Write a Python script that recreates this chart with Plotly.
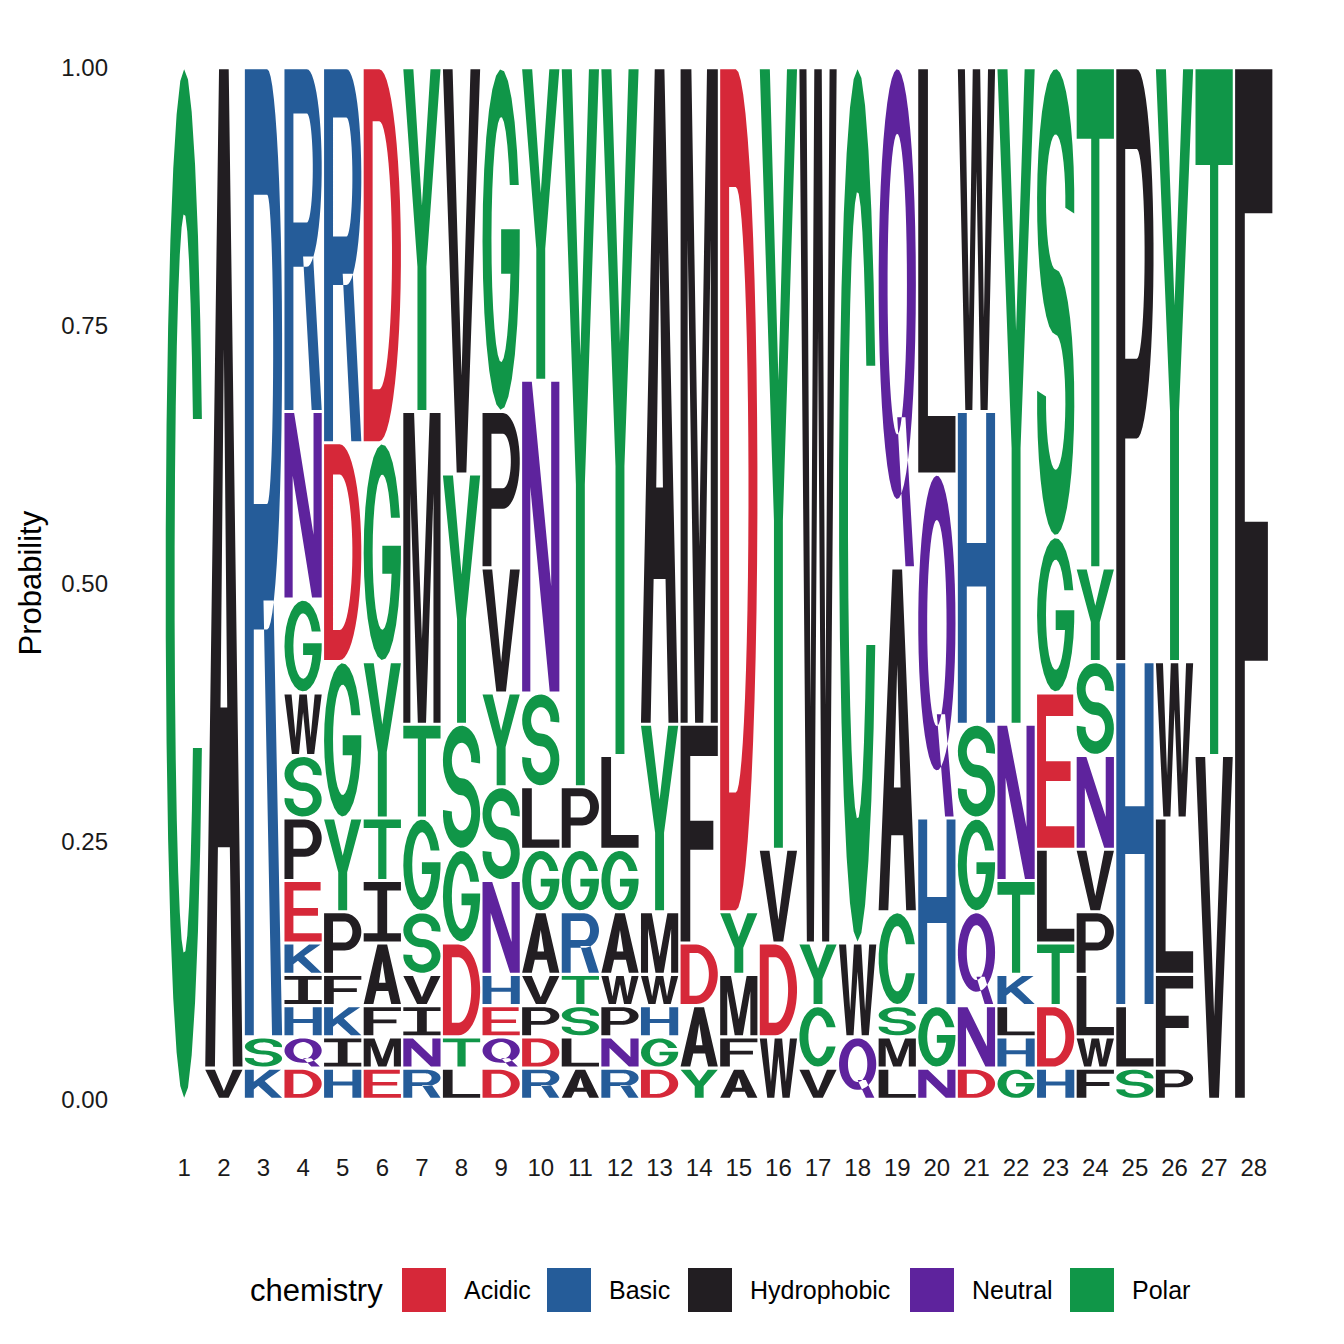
import numpy as np
import plotly.graph_objects as go

# ------------------------------------------------------------------
# Data: residues per position (bottom -> top) and counts out of 33
# ------------------------------------------------------------------

POSITIONS = list(range(1, 29))

RESIDUES = [
    "C", "VA", "KSR", "DQHIKEPSWGNR", "HIKFPYGDR", "EMFAITYGD", "RNIVSGTMY",
    "LTDGSYV", "DQEHNSYVPG", "RDPVAGLSNY", "ALSTRGPY", "RNPWAGLY", "DGHWMYA",
    "YADFM", "AFMYD", "WDVY", "VCYW", "QWC", "LMSCAQ", "NGHQL", "DNQGSHW",
    "GHLKTNY", "HDTLEGS", "FWLPVNSYT", "SLHP", "PFLWY", "VT", "F",
]

COUNTS = [
    [33],
    [1, 32],
    [1, 1, 31],
    [1, 1, 1, 1, 1, 2, 2, 2, 2, 3, 6, 11],
    [1, 1, 1, 1, 2, 3, 5, 7, 12],
    [1, 1, 1, 2, 2, 2, 5, 7, 12],
    [1, 1, 1, 1, 2, 3, 3, 10, 11],
    [1, 1, 3, 3, 4, 8, 13],
    [1, 1, 1, 1, 3, 3, 3, 4, 5, 11],
    [1, 1, 1, 1, 2, 2, 2, 3, 10, 10],
    [1, 1, 1, 1, 2, 2, 2, 23],
    [1, 1, 1, 1, 2, 2, 3, 22],
    [1, 1, 1, 1, 2, 6, 21],
    [1, 2, 2, 7, 21],
    [1, 1, 2, 2, 27],
    [2, 3, 3, 25],
    [1, 2, 2, 28],
    [2, 3, 28],
    [1, 1, 1, 3, 11, 16],
    [1, 2, 6, 11, 13],
    [1, 2, 3, 3, 3, 10, 11],
    [1, 1, 1, 1, 3, 5, 21],
    [1, 2, 2, 3, 5, 5, 15],
    [1, 1, 2, 2, 2, 3, 3, 3, 16],
    [1, 2, 11, 19],
    [1, 3, 5, 5, 19],
    [11, 22],
    [33],
]

Y_TICKS = [0, 0.25, 0.5, 0.75, 1.0]
Y_TICK_LABELS = ['0.00', '0.25', '0.50', '0.75', '1.00']

GROUPS = ['Acidic', 'Basic', 'Hydrophobic', 'Neutral', 'Polar']
GROUP_COLORS = {
    'Acidic': '#D62839',
    'Basic': '#255C99',
    'Hydrophobic': '#221E22',
    'Neutral': '#5E239D',
    'Polar': '#109648',
}
GROUP_LETTERS = {
    'Acidic': 'DE',
    'Basic': 'KRH',
    'Hydrophobic': 'PAWFLIMV',
    'Neutral': 'QN',
    'Polar': 'GSTYC',
}
LETTER_GROUP = {aa: g for g, aas in GROUP_LETTERS.items() for aa in aas}

FONT = 'Liberation Sans, Arial, sans-serif'

# ------------------------------------------------------------------
# Letter outlines in a unit box (x, y in 0..1)
# ------------------------------------------------------------------

SW = 0.24   # stem width
BT = 0.14   # bar thickness


def arc(cx, cy, rx, ry, a0, a1, n=28):
    t = np.radians(np.linspace(a0, a1, n))
    return list(zip(cx + rx * np.cos(t), cy + ry * np.sin(t)))


def deg_asin(v):
    return float(np.degrees(np.arcsin(np.clip(v, -1, 1))))


def make_glyphs():
    """Each glyph: list of components; a component is [outer, hole, hole...]."""
    g = {}
    rxi, ryi = 0.5 - SW, 0.5 - BT

    g['A'] = [[[(0, 0), (0.26, 0), (0.34, 0.22), (0.66, 0.22), (0.74, 0), (1, 0),
                (0.63, 1), (0.37, 1)],
               [(0.41, 0.36), (0.59, 0.36), (0.5, 0.72)]]]

    to = deg_asin(0.16 / 0.5)
    ti = deg_asin(0.16 / ryi)
    g['C'] = [[arc(0.5, 0.5, 0.5, 0.5, to, 360 - to)
               + arc(0.5, 0.5, rxi, ryi, 360 - ti, ti)]]

    tb = deg_asin(-0.10 / ryi)
    g['G'] = [[arc(0.5, 0.5, 0.5, 0.5, to, 355)
               + [(1.0, 0.53), (0.5, 0.53), (0.5, 0.40)]
               + arc(0.5, 0.5, rxi, ryi, tb, -(360 - ti))]]

    g['D'] = [[[(0, 0), (0.42, 0)] + arc(0.42, 0.5, 0.58, 0.5, -90, 90) + [(0, 1)],
               [(SW, BT), (0.42, BT)] + arc(0.42, 0.5, 0.34, 0.5 - BT, -90, 90)
               + [(SW, 1 - BT)]]]

    g['E'] = [[[(0, 0), (1, 0), (1, BT), (SW, BT), (SW, 0.435), (0.9, 0.435),
                (0.9, 0.565), (SW, 0.565), (SW, 1 - BT), (0.97, 1 - BT),
                (0.97, 1), (0, 1)]]]

    g['F'] = [[[(0, 0), (SW + 0.02, 0), (SW + 0.02, 0.425), (0.88, 0.425),
                (0.88, 0.56), (SW + 0.02, 0.56), (SW + 0.02, 1 - BT), (1, 1 - BT),
                (1, 1), (0, 1)]]]

    g['H'] = [[[(0, 0), (SW, 0), (SW, 0.44), (1 - SW, 0.44), (1 - SW, 0), (1, 0),
                (1, 1), (1 - SW, 1), (1 - SW, 0.58), (SW, 0.58), (SW, 1), (0, 1)]]]

    s = 0.13
    g['I'] = [[[(0, 0), (1, 0), (1, BT), (0.5 + s, BT), (0.5 + s, 1 - BT),
                (1, 1 - BT), (1, 1), (0, 1), (0, 1 - BT), (0.5 - s, 1 - BT),
                (0.5 - s, BT), (0, BT)]]]

    g['K'] = [[[(0, 0), (SW, 0), (SW, 0.3), (0.36, 0.43), (0.72, 0), (1, 0),
                (0.53, 0.6), (0.97, 1), (0.66, 1), (SW, 0.57), (SW, 1), (0, 1)]]]

    g['L'] = [[[(0, 0), (1, 0), (1, BT), (SW + 0.02, BT), (SW + 0.02, 1), (0, 1)]]]

    g['M'] = [[[(0, 0), (0.19, 0), (0.19, 0.74), (0.39, 0), (0.61, 0), (0.81, 0.74),
                (0.81, 0), (1, 0), (1, 1), (0.71, 1), (0.5, 0.27), (0.29, 1),
                (0, 1)]]]

    g['N'] = [[[(0, 0), (0.22, 0), (0.22, 0.66), (0.74, 0), (1, 0), (1, 1),
                (0.78, 1), (0.78, 0.34), (0.26, 1), (0, 1)]]]

    cy, ry = (0.375 + 1) / 2, (1 - 0.375) / 2
    cyi, ryh = (0.51 + 0.865) / 2, (0.865 - 0.51) / 2
    g['P'] = [[[(0, 0), (SW, 0), (SW, 0.375), (0.55, 0.375)]
               + arc(0.55, cy, 0.45, ry, -90, 90) + [(0, 1)],
               [(SW, 0.51), (0.55, 0.51)] + arc(0.55, cyi, 0.21, ryh, -90, 90)
               + [(SW, 0.865)]]]

    qc, qr = 0.5675, 0.4325
    g['Q'] = [[arc(0.5, qc, 0.5, qr, 0, 360, 48),
               arc(0.5, qc, rxi, qr - 0.13, 0, 360, 48)],
              [[(0.5, 0.3), (0.72, 0.3), (0.95, 0.0), (0.72, 0.0)]]]

    cy, ry = (0.42 + 1) / 2, (1 - 0.42) / 2
    cyi, ryh = (0.55 + 0.87) / 2, (0.87 - 0.55) / 2
    g['R'] = [[[(0, 0), (SW, 0), (SW, 0.42), (0.6, 0.42)]
               + arc(0.6, cy, 0.4, ry, -90, 90) + [(0, 1)],
               [(SW, 0.55), (0.6, 0.55)] + arc(0.6, cyi, 0.16, ryh, -90, 90)
               + [(SW, 0.87)]],
              [[(0.5, 0.45), (0.77, 0.45), (1.0, 0), (0.73, 0)]]]

    cu, cl = 0.715, 0.285
    ro, ri = 0.285, 0.145
    g['S'] = [[arc(0.5, cu, 0.5, ro, -5, 270)
               + arc(0.5, cl, rxi, ri, 90, -185)
               + arc(0.5, cl, 0.5, ro, -185, 90)
               + arc(0.5, cu, rxi, ri, 270, -5)]]

    g['T'] = [[[(0, 1 - BT), (0.39, 1 - BT), (0.39, 0), (0.61, 0), (0.61, 1 - BT),
                (1, 1 - BT), (1, 1), (0, 1)]]]

    g['V'] = [[[(0, 1), (0.26, 1), (0.5, 0.24), (0.74, 1), (1, 1), (0.63, 0),
                (0.37, 0)]]]

    g['W'] = [[[(0, 1), (0.19, 1), (0.3, 0.27), (0.4, 1), (0.6, 1), (0.7, 0.27),
                (0.81, 1), (1, 1), (0.8, 0), (0.61, 0), (0.5, 0.7), (0.39, 0),
                (0.2, 0)]]]

    g['Y'] = [[[(0, 1), (0.27, 1), (0.5, 0.6), (0.73, 1), (1, 1), (0.62, 0.42),
                (0.62, 0), (0.38, 0), (0.38, 0.42)]]]
    return g


GLYPHS = make_glyphs()


def signed_area(pts):
    a = 0.0
    for (x0, y0), (x1, y1) in zip(pts, pts[1:] + pts[:1]):
        a += x0 * y1 - x1 * y0
    return a / 2


def glyph_path(letter, x0, x1, y0, y1):
    """SVG path of a glyph stretched into the box [x0, x1] x [y0, y1]."""
    parts = []
    for comp in GLYPHS[letter]:
        for i, contour in enumerate(comp):
            pts = list(contour)
            is_hole = i > 0
            # outer contours counter-clockwise, holes clockwise (nonzero rule)
            if (signed_area(pts) > 0) == is_hole:
                pts = pts[::-1]
            coords = ['%.4f,%.5f' % (x0 + u * (x1 - x0), y0 + v * (y1 - y0)) for u, v in pts]
            parts.append('M' + ' L'.join(coords) + ' Z')
    return ' '.join(parts)


# ------------------------------------------------------------------
# Figure
# ------------------------------------------------------------------

HALF_W = 0.47
PAD = 0.0015

shapes = []
for pos, letters, counts in zip(POSITIONS, RESIDUES, COUNTS):
    total = float(sum(counts))
    base = 0.0
    for aa, c in zip(letters, counts):
        h = c / total
        color = GROUP_COLORS[LETTER_GROUP[aa]]
        shapes.append(dict(
            type='path', xref='x', yref='y',
            path=glyph_path(aa, pos - HALF_W, pos + HALF_W, base + PAD, base + h - PAD),
            fillcolor=color, line=dict(width=0), layer='above',
        ))
        base += h

fig = go.Figure()
# invisible trace so the axes are drawn
fig.add_trace(go.Scatter(x=[POSITIONS[0], POSITIONS[-1]], y=[0, 1], mode='markers',
                         marker=dict(opacity=0), hoverinfo='skip', showlegend=False))

# page body has an 8px margin, so the figure is 1328 px and shifted by 8
W, H = 1328, 1328
L_PX, R_PX, T_PX, B_PX = 101, 1321, 8, 1143


def px_x(x):
    return (x - L_PX) / (R_PX - L_PX)


def px_y(y):
    return (B_PX - y) / (B_PX - T_PX)


annotations = [dict(
    text='Probability', xref='paper', yref='paper', x=px_x(22), y=0.5,
    textangle=-90, showarrow=False, xanchor='center', yanchor='middle',
    font=dict(family=FONT, size=31, color='black'),
)]

# legend drawn by hand to get the large ggplot style keys
annotations.append(dict(
    text='chemistry', xref='paper', yref='paper', x=px_x(240), y=px_y(1282),
    showarrow=False, xanchor='left', yanchor='middle',
    font=dict(family=FONT, size=31, color='black'),
))
key_x = [394, 539, 680, 902, 1062]
for grp, kx in zip(GROUPS, key_x):
    shapes.append(dict(
        type='rect', xref='paper', yref='paper',
        x0=px_x(kx), x1=px_x(kx + 44), y0=px_y(1304), y1=px_y(1260),
        fillcolor=GROUP_COLORS[grp], line=dict(width=0),
    ))
    annotations.append(dict(
        text=grp, xref='paper', yref='paper', x=px_x(kx + 60), y=px_y(1282),
        showarrow=False, xanchor='left', yanchor='middle',
        font=dict(family=FONT, size=25, color='black'),
    ))

fig.update_layout(
    width=W, height=H,
    margin=dict(l=L_PX, r=W - R_PX, t=T_PX, b=H - B_PX, pad=0),
    plot_bgcolor='white', paper_bgcolor='white',
    showlegend=False,
    shapes=shapes,
    annotations=annotations,
    xaxis=dict(
        range=[-0.9, 29.9], tickmode='array', tickvals=POSITIONS,
        ticktext=[str(p) for p in POSITIONS],
        showgrid=False, zeroline=False, showline=False, ticks='',
        tickfont=dict(family=FONT, size=24, color='#1a1a1a'),
    ),
    yaxis=dict(
        range=[-0.05, 1.05], tickmode='array', tickvals=Y_TICKS,
        ticktext=Y_TICK_LABELS,
        showgrid=False, zeroline=False, showline=False, ticks='',
        tickfont=dict(family=FONT, size=24, color='#1a1a1a'),
    ),
)

fig.write_html('out.html')
